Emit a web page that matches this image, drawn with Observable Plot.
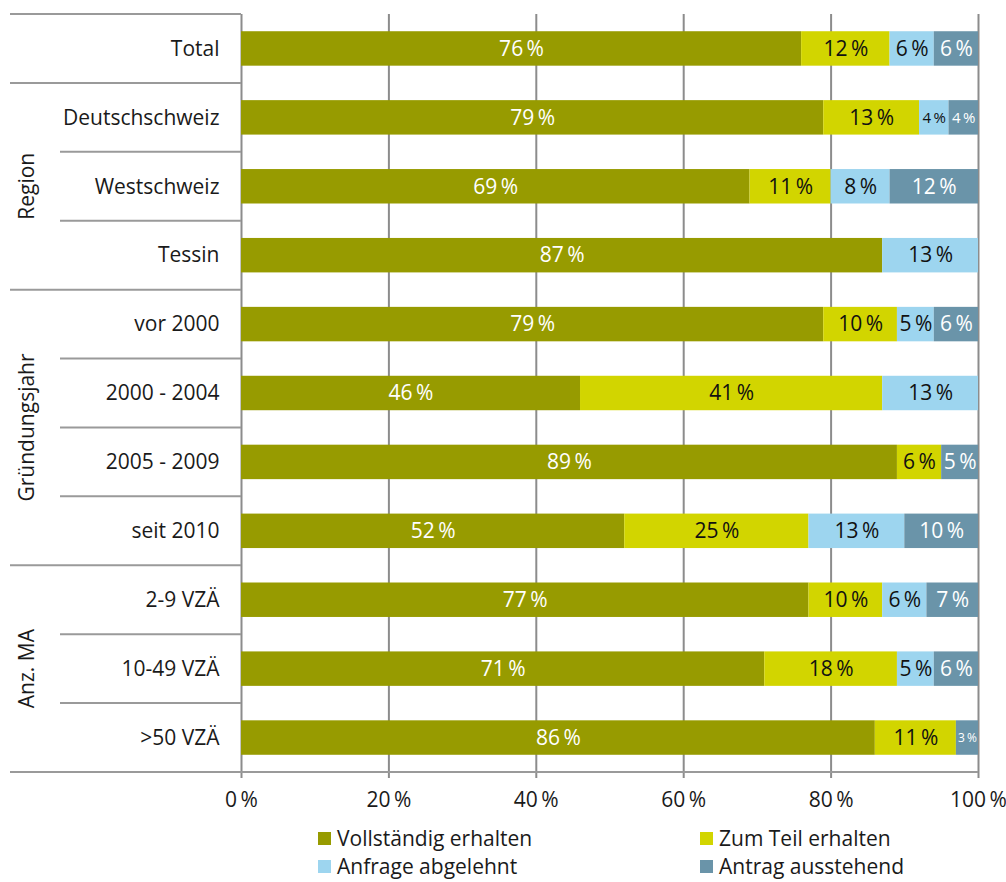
<!DOCTYPE html>
<html>
<head>
<meta charset="utf-8">
<script src="https://cdn.jsdelivr.net/npm/d3@7"></script>
<script src="https://cdn.jsdelivr.net/npm/@observablehq/plot@0.6"></script>
<style>
  body { margin: 0; background: #fff; font-family: "Open Sans", sans-serif; }
  #chart svg { display: block; }
  #legend {
    display: grid;
    grid-template-columns: 382px 300px;
    padding-left: 318px;
    font-size: 21px;
    color: #1a1a1a;
  }
  .item { display: flex; align-items: center; height: 28px; white-space: nowrap; }
  .sw { width: 13px; height: 13px; margin-right: 6px; flex: none; }
</style>
</head>
<body>
<div id="chart"></div>
<div id="legend"></div>
<script>
// Rows of the chart, top to bottom
const categories = ["Total", "Deutschschweiz", "Westschweiz", "Tessin",
  "vor 2000", "2000 - 2004", "2005 - 2009", "seit 2010",
  "2-9 VZÄ", "10-49 VZÄ", ">50 VZÄ"];

// Answer categories (stack order, left to right)
const series = ["Vollständig erhalten", "Zum Teil erhalten", "Anfrage abgelehnt", "Antrag ausstehend"];

// Shares in percent, one value per row
const vollstaendig = [76, 79, 69, 87, 79, 46, 89, 52, 77, 71, 86];
const zumTeil      = [12, 13, 11,  0, 10, 41,  6, 25, 10, 18, 11];
const abgelehnt    = [ 6,  4,  8, 13,  5, 13,  0, 13,  6,  5,  0];
const ausstehend   = [ 6,  4, 12,  0,  6,  0,  5, 10,  7,  6,  3];

// Row groups shown as rotated labels on the left
const groupNames = ["Region", "Gründungsjahr", "Anz. MA"];
const groupRows = [
  ["Deutschschweiz", "Westschweiz", "Tessin"],
  ["vor 2000", "2000 - 2004", "2005 - 2009", "seit 2010"],
  ["2-9 VZÄ", "10-49 VZÄ", ">50 VZÄ"]
];

const xTicks = [0, 20, 40, 60, 80, 100];

const seriesColors = ["#979b00", "#d2d500", "#9dd5ef", "#6a94a9"];
const labelColors = ["#ffffff", "#111111", "#111111", "#ffffff"];

const valuesBySeries = [vollstaendig, zumTeil, abgelehnt, ausstehend];
const rows = [];
categories.forEach((category, i) => {
  series.forEach((s, j) => {
    rows.push({category, series: s, value: valuesBySeries[j][i], k: j});
  });
});

const pct = v => v + "\u2009%";

// Separators and group titles in the left margin
function leftFrame(index, scales, values, dims) {
  const y = scales.y;
  const step = y(categories[1]) - y(categories[0]);
  const bw = typeof y.bandwidth === "function" ? y.bandwidth() : (y.bandwidth ?? step / 2);
  const gap = (step - bw) / 2;
  const top = c => y(c) - gap;
  const bottom = c => y(c) + bw + gap;
  const x0 = dims.marginLeft;
  const g = d3.create("svg:g").attr("stroke", "#9a9a9a").attr("stroke-width", 2);
  const line = (xa, xb, yy) => g.append("line").attr("x1", xa).attr("x2", xb).attr("y1", yy).attr("y2", yy);
  line(10, x0, top(categories[0]));
  line(10, x0, bottom(categories[0]));
  groupRows.forEach((rs, gi) => {
    rs.slice(0, -1).forEach(c => line(60, x0, bottom(c)));
    const last = rs[rs.length - 1];
    if (gi < groupRows.length - 1) line(10, x0, bottom(last));
    else line(10, dims.width - dims.marginRight, bottom(last));
    const mid = (top(rs[0]) + bottom(last)) / 2;
    g.append("text")
      .attr("stroke", "none")
      .attr("fill", "#1a1a1a")
      .attr("text-anchor", "middle")
      .attr("dominant-baseline", "central")
      .attr("transform", `translate(26,${mid}) rotate(-90)`)
      .text(groupNames[gi]);
  });
  return g.node();
}

const chart = Plot.plot({
  width: 1006,
  height: 824,
  marginTop: 14,
  marginBottom: 52,
  marginLeft: 241,
  marginRight: 28,
  style: {fontFamily: "'Open Sans', sans-serif", fontSize: "21px", color: "#1a1a1a", background: "#fff"},
  x: {domain: [0, 100], label: null},
  y: {domain: categories, paddingInner: 0.5, paddingOuter: 0.25, round: false, label: null},
  color: {type: "identity"},
  marks: [
    Plot.gridX(xTicks, {stroke: "#8c8c8c", strokeOpacity: 1, strokeWidth: 2}),
    Plot.axisX({ticks: xTicks, tickFormat: pct, tickSize: 6, tickPadding: 14, stroke: "#8c8c8c", strokeWidth: 2, label: null}),
    Plot.axisY({tickSize: 0, tickPadding: 22, label: null}),
    Plot.barX(rows, {x: "value", y: "category", z: "series", fill: d => seriesColors[d.k]}),
    Plot.text(rows.filter(d => d.value > 0), Plot.stackX({
      x: "value", y: "category", z: "series",
      text: d => pct(d.value),
      fill: d => labelColors[d.k],
      fontSize: d => d.value <= 3 ? 12 : d.value <= 4 ? 15 : 21
    })),
    leftFrame
  ]
});
document.getElementById("chart").append(chart);

// Legend below the chart
const legend = document.getElementById("legend");
series.forEach((s, i) => {
  const item = document.createElement("div");
  item.className = "item";
  const sw = document.createElement("span");
  sw.className = "sw";
  sw.style.background = seriesColors[i];
  item.append(sw, document.createTextNode(s));
  legend.append(item);
});
</script>
</body>
</html>
